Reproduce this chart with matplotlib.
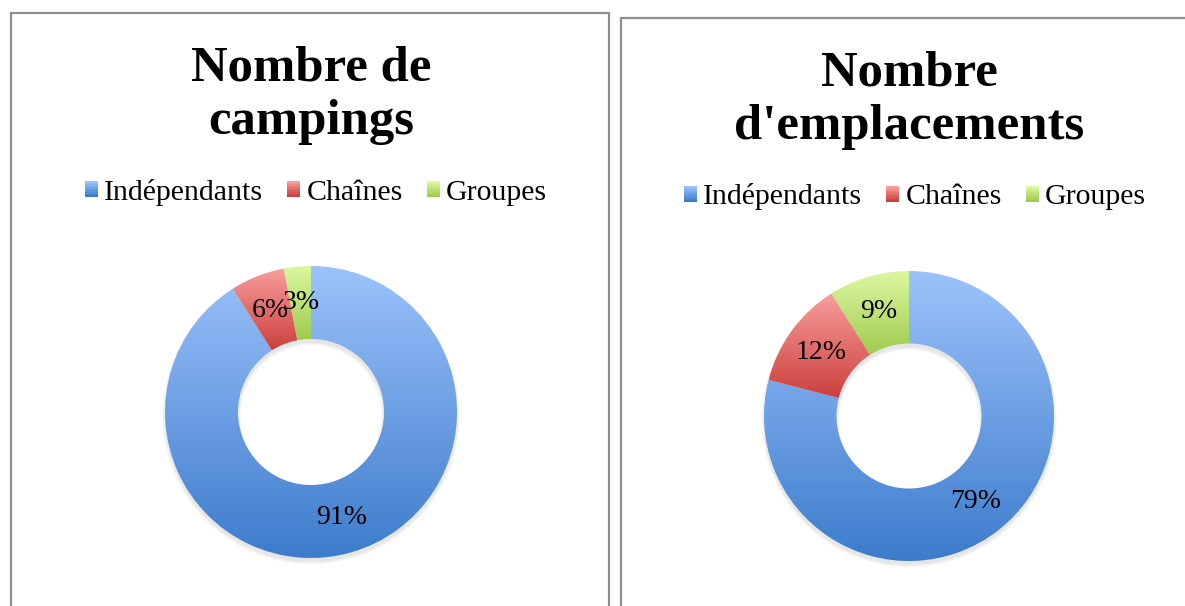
import numpy as np
import matplotlib
matplotlib.use("Agg")
import matplotlib.pyplot as plt
from matplotlib.patches import Rectangle, Patch, Wedge
from matplotlib.legend_handler import HandlerBase
from matplotlib.colors import to_rgb

# data
categories = ['Indépendants', 'Chaînes', 'Groupes']
campings = [91, 6, 3]
emplacements = [79, 12, 9]
titles = ['Nombre de\ncampings', "Nombre\nd'emplacements"]

# gradient colours (top, bottom) per category
grad_top = ['#9cc2fb', '#f79e9c', '#dcf8a0']
grad_bot = ['#3d7ccc', '#cc403d', '#9fcb4e']

W, H = 1185, 606
fig = plt.figure(figsize=(W / 100, H / 100), dpi=100)
fig.patch.set_facecolor('white')
plt.rcParams['font.family'] = ['Liberation Serif', 'DejaVu Serif']


def fx(px):
    return px / W


def fy(py):
    # py measured from top of picture
    return 1 - py / H


# panel borders (bottom runs off the picture)
for x0, y0, x1 in [(10.5, 12.5, 609), (621.5, 18, 1230)]:
    fig.patches.append(Rectangle((fx(x0), fy(700)), fx(x1 - x0), (700 - y0) / H,
                                 transform=fig.transFigure, fill=False,
                                 edgecolor='#8e8e8e', linewidth=1.6))


def gradient(top, bot, n=256):
    t = np.linspace(0, 1, n)[:, None]
    a, b = np.array(to_rgb(top)), np.array(to_rgb(bot))
    return (a * (1 - t) + b * t)[:, None, :]


class GradientHandler(HandlerBase):
    def __init__(self, top, bot):
        super().__init__()
        self.top, self.bot = top, bot

    def create_artists(self, legend, orig_handle, xdescent, ydescent,
                       width, height, fontsize, trans):
        n = 10
        out = []
        g = gradient(self.top, self.bot, n)[:, 0, :]
        for i in range(n):
            r = Rectangle((-xdescent, -ydescent + height * (n - 1 - i) / n),
                          width, height / n, facecolor=g[i], edgecolor='none',
                          transform=trans)
            out.append(r)
        return out


def donut(cx, cy, r, values, title, title_y, leg_xy):
    ax = fig.add_axes([fx(cx - r), 1 - (cy + r) / H, fx(2 * r), 2 * r / H])
    # soft shadow under the ring
    for k in range(5):
        sh = Wedge((0, -0.025), 1.0 + 0.005 * k, 0, 360, width=0.5 + 0.01 * k,
                   facecolor='black', edgecolor='none', alpha=0.02, zorder=0,
                   clip_on=False)
        ax.add_patch(sh)
    wedges, _, autotexts = ax.pie(values, radius=1, startangle=90, counterclock=False,
                                  wedgeprops=dict(width=0.5, linewidth=0),
                                  autopct='%1.0f%%', pctdistance=0.75,
                                  textprops=dict(fontsize=20, color='black'))
    for i, w in enumerate(wedges):
        bb = w.get_path().get_extents(w.get_patch_transform())
        im = ax.imshow(gradient(grad_top[i], grad_bot[i]), aspect='auto',
                       extent=[bb.x0, bb.x1, bb.y0, bb.y1], origin='upper',
                       zorder=1, interpolation='bilinear')
        im.set_clip_path(w)
        w.set_facecolor('none')
    for t in autotexts:
        t.set_zorder(5)
    ax.set_xlim(-1, 1)
    ax.set_ylim(-1, 1)
    ax.axis('off')

    fig.text(fx(cx), fy(title_y), title, ha='center', va='center',
             fontsize=36.5, fontweight='bold', linespacing=1.2)

    handles = [Patch(label=c) for c in categories]
    hmap = {h: GradientHandler(grad_top[i], grad_bot[i]) for i, h in enumerate(handles)}
    fig.legend(handles=handles, handler_map=hmap, loc='center',
               bbox_to_anchor=(fx(leg_xy[0]), fy(leg_xy[1])), ncol=3, frameon=False,
               fontsize=21.5, handlelength=0.44, handleheight=0.44,
               handletextpad=0.2, columnspacing=0.8, borderpad=0, borderaxespad=0)


donut(311, 412, 146, campings, titles[0], 95, (316, 192))
donut(909, 416, 145, emplacements, titles[1], 100, (915, 197))

fig.savefig('out.png', dpi=100, facecolor='white')
